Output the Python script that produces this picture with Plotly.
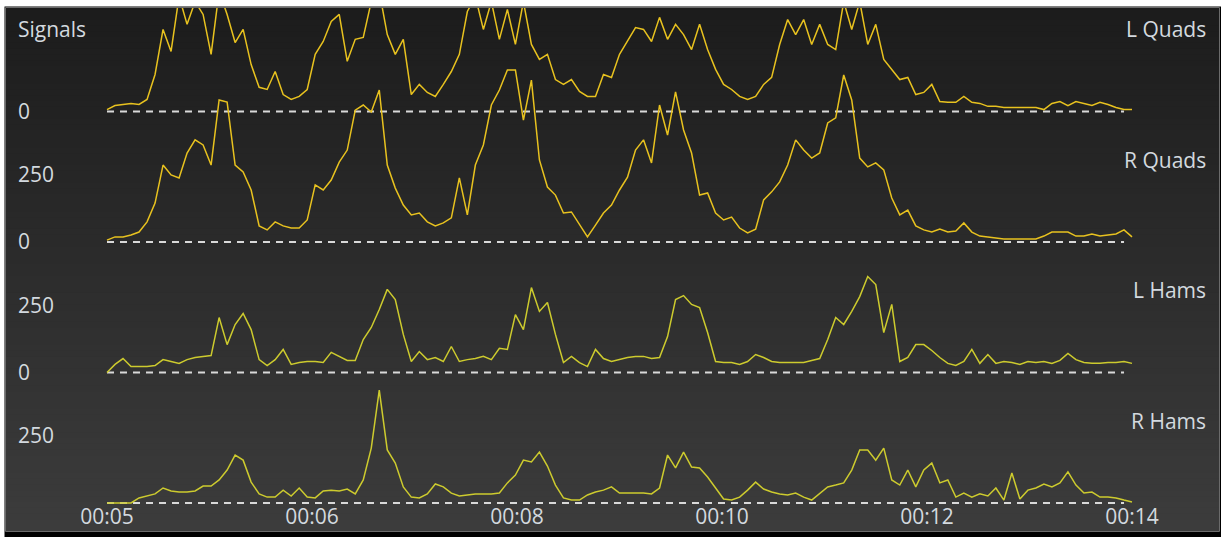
import numpy as np
import plotly.graph_objects as go

# ---------------------------------------------------------------------------
# Data: EMG envelope of four muscle channels, sampled 129 times from 5 s to 14 s
# ---------------------------------------------------------------------------
time_s = np.linspace(5.0, 14.0, 129)

l_quads = [7, 22, 26, 30, 26, 45, 138, 306, 224, 429,
           325, 410, 362, 213, 448, 362, 257, 306, 175, 90,
           82, 149, 63, 45, 56, 82, 213, 261, 336, 362,
           187, 269, 276, 410, 448, 287, 213, 269, 63, 101,
           71, 56, 101, 149, 213, 373, 429, 306, 410, 269,
           381, 250, 410, 250, 194, 213, 119, 101, 119, 75,
           56, 56, 138, 127, 213, 261, 313, 306, 261, 351,
           269, 325, 287, 231, 325, 231, 157, 101, 82, 56,
           45, 56, 101, 127, 250, 343, 287, 343, 250, 325,
           250, 231, 410, 306, 410, 250, 325, 194, 157, 119,
           127, 63, 71, 101, 37, 34, 34, 56, 34, 30,
           19, 19, 15, 15, 15, 15, 15, 7, 30, 37,
           22, 37, 30, 22, 34, 26, 15, 7, 7]

r_quads = [7, 19, 19, 26, 37, 75, 145, 287, 250, 239,
           332, 381, 362, 287, 530, 522, 287, 261, 194, 60,
           45, 75, 60, 52, 52, 82, 213, 194, 231, 298,
           343, 492, 511, 485, 567, 287, 201, 138, 101, 108,
           75, 60, 71, 90, 239, 101, 287, 362, 511, 567,
           642, 642, 455, 604, 306, 205, 175, 108, 112, 63,
           19, 63, 108, 138, 194, 242, 343, 381, 295, 511,
           399, 560, 418, 332, 175, 183, 108, 82, 93, 52,
           34, 48, 157, 187, 224, 287, 381, 343, 313, 332,
           444, 463, 623, 530, 313, 280, 295, 269, 164, 101,
           119, 60, 45, 37, 48, 37, 41, 71, 37, 22,
           19, 15, 11, 11, 11, 11, 11, 22, 37, 37,
           37, 22, 22, 30, 22, 26, 30, 45, 19]

l_hams = [0, 30, 52, 22, 22, 22, 26, 48, 41, 34,
          48, 56, 60, 63, 205, 104, 179, 220, 160, 48,
          26, 48, 86, 30, 37, 41, 41, 37, 75, 60,
          45, 45, 123, 168, 235, 310, 272, 142, 41, 78,
          48, 56, 41, 97, 41, 48, 52, 60, 48, 90,
          86, 216, 160, 317, 228, 261, 142, 37, 60, 37,
          22, 86, 52, 41, 48, 56, 60, 60, 52, 56,
          134, 272, 287, 254, 242, 149, 41, 37, 37, 30,
          41, 67, 56, 41, 37, 37, 37, 37, 45, 52,
          123, 205, 179, 228, 283, 358, 328, 149, 254, 41,
          56, 104, 104, 82, 56, 34, 26, 41, 86, 34,
          67, 34, 41, 37, 30, 41, 37, 41, 34, 45,
          71, 48, 37, 34, 34, 37, 37, 41, 34]

r_hams = [0, 0, 0, 0, 19, 26, 34, 56, 45, 41,
          41, 45, 63, 63, 86, 123, 179, 160, 78, 34,
          22, 22, 48, 26, 56, 22, 19, 45, 48, 45,
          52, 34, 86, 205, 421, 198, 149, 60, 22, 19,
          34, 71, 60, 37, 26, 30, 34, 34, 34, 37,
          75, 104, 160, 153, 190, 138, 67, 19, 11, 11,
          30, 41, 48, 60, 37, 37, 37, 37, 34, 56,
          179, 131, 190, 134, 131, 97, 56, 15, 11, 22,
          48, 78, 52, 41, 34, 30, 37, 22, 11, 37,
          60, 67, 75, 123, 198, 198, 160, 205, 86, 67,
          123, 60, 123, 149, 75, 86, 22, 37, 22, 34,
          26, 56, 11, 112, 15, 48, 56, 71, 60, 75,
          116, 67, 37, 41, 22, 22, 19, 11, 4]

channel_names = ["L Quads", "R Quads", "L Hams", "R Hams"]
channel_values = [l_quads, r_quads, l_hams, r_hams]
channel_colors = ["#e8c21f", "#e8c21f", "#cdcb2e", "#cdcb2e"]

x_tick_vals = [5.0, 6.8, 8.6, 10.4, 12.2, 14.0]
x_tick_text = ["00:05", "00:06", "00:08", "00:10", "00:12", "00:14"]
y_tick_steps = [0, 250]
y_tick_text = ["0", "250"]

# ---------------------------------------------------------------------------
# Geometry of the stacked strip chart
# ---------------------------------------------------------------------------
W, H = 1221, 537
M_L, M_R, M_T, M_B = 6, 2, 8, 6
PW, PH = W - M_L - M_R, H - M_T - M_B

ROW_GAP = 487            # vertical spacing between channel baselines (signal units)
UNITS_PER_PX = 250 / 67  # vertical scale
PX_PER_S = 1025 / 9      # horizontal scale
X0_PX = 107              # pixel position of the first sample
BASE_PX = 503            # pixel position of the lowest baseline

x_range = [5.0 - (X0_PX - M_L) / PX_PER_S, 14.0 + (W - M_R - X0_PX - 1025) / PX_PER_S]
y_range = [-(H - M_B - BASE_PX) * UNITS_PER_PX, (BASE_PX - M_T) * UNITS_PER_PX]

n_rows = len(channel_names)
offsets = [(n_rows - 1 - i) * ROW_GAP for i in range(n_rows)]


def px_x(px):
    return (px - M_L) / PW


def px_y(py):
    return (H - M_B - py) / PH


fig = go.Figure()

# signal traces, each lifted onto its own baseline
for name, vals, color, off in zip(channel_names, channel_values, channel_colors, offsets):
    fig.add_trace(go.Scatter(
        x=time_s, y=np.asarray(vals, dtype=float) + off, mode="lines", name=name,
        line=dict(color=color, width=1.5), hoverinfo="skip", showlegend=False,
    ))

shapes = []
# vertical background gradient
n_bands = 90
top_rgb = np.array([28, 28, 28])
bot_rgb = np.array([60, 60, 60])
for k in range(n_bands):
    f = k / (n_bands - 1)
    c = (top_rgb + (bot_rgb - top_rgb) * f).round().astype(int)
    shapes.append(dict(
        type="rect", xref="paper", yref="paper", layer="below",
        x0=0, x1=1, y0=1 - (k + 1) / n_bands - 0.002, y1=1 - k / n_bands,
        fillcolor=f"rgb({c[0]},{c[1]},{c[2]})", line=dict(width=0),
    ))

# dashed zero lines
for off in offsets:
    shapes.append(dict(
        type="line", xref="x", yref="y", layer="below",
        x0=time_s[0], x1=13.93, y0=off, y1=off,
        line=dict(color="#d9d9d9", width=2, dash="7px,6px"),
    ))

# window frame
shapes += [
    dict(type="rect", xref="paper", yref="paper", layer="above",
         x0=px_x(0), x1=px_x(W), y0=px_y(6.5), y1=px_y(0),
         fillcolor="#ffffff", line=dict(width=0)),
    dict(type="rect", xref="paper", yref="paper", layer="above",
         x0=px_x(0), x1=px_x(4.5), y0=px_y(H), y1=px_y(0),
         fillcolor="#ffffff", line=dict(width=0)),
    dict(type="rect", xref="paper", yref="paper", layer="above",
         x0=px_x(5.5), x1=px_x(W - 1.5), y0=px_y(531.5), y1=px_y(7.5),
         fillcolor="rgba(0,0,0,0)", line=dict(color="#6b6b6b", width=1)),
]

label_font = dict(family="Open Sans, Noto Sans, sans-serif", size=21, color="#d3d9df")

annotations = []
for name, off in zip(channel_names, offsets):
    annotations.append(dict(
        text=name, xref="paper", yref="y", x=px_x(1208), y=off + 82 * UNITS_PER_PX,
        xanchor="right", yanchor="middle", showarrow=False, font=label_font,
    ))
annotations.append(dict(
    text="Signals", xref="paper", yref="y", x=px_x(16), y=offsets[0] + 82 * UNITS_PER_PX,
    xanchor="left", yanchor="middle", showarrow=False, font=label_font,
))

# y ticks: zero for every row, 250 for every row whose label slot is free
y_tick_vals, y_tick_labels = [], []
for i, off in enumerate(offsets):
    for step, txt in zip(y_tick_steps, y_tick_text):
        if i == 0 and step > 0:
            continue
        y_tick_vals.append(off + step)
        y_tick_labels.append(txt)

fig.update_layout(
    width=W, height=H,
    margin=dict(l=M_L, r=M_R, t=M_T, b=M_B),
    paper_bgcolor="#000000",
    plot_bgcolor="rgba(0,0,0,0)",
    shapes=shapes,
    annotations=annotations,
    xaxis=dict(
        range=x_range, tickvals=x_tick_vals, ticktext=x_tick_text,
        ticklabelposition="inside", ticks="", showgrid=False, zeroline=False,
        showline=False, tickfont=label_font, fixedrange=True,
    ),
    yaxis=dict(
        range=y_range, tickvals=y_tick_vals, ticktext=y_tick_labels,
        ticklabelposition="inside", ticklabelstandoff=9, ticks="", showgrid=False,
        zeroline=False, showline=False, tickfont=label_font, fixedrange=True,
    ),
)

fig.write_html("out.html", config=dict(displayModeBar=False))
